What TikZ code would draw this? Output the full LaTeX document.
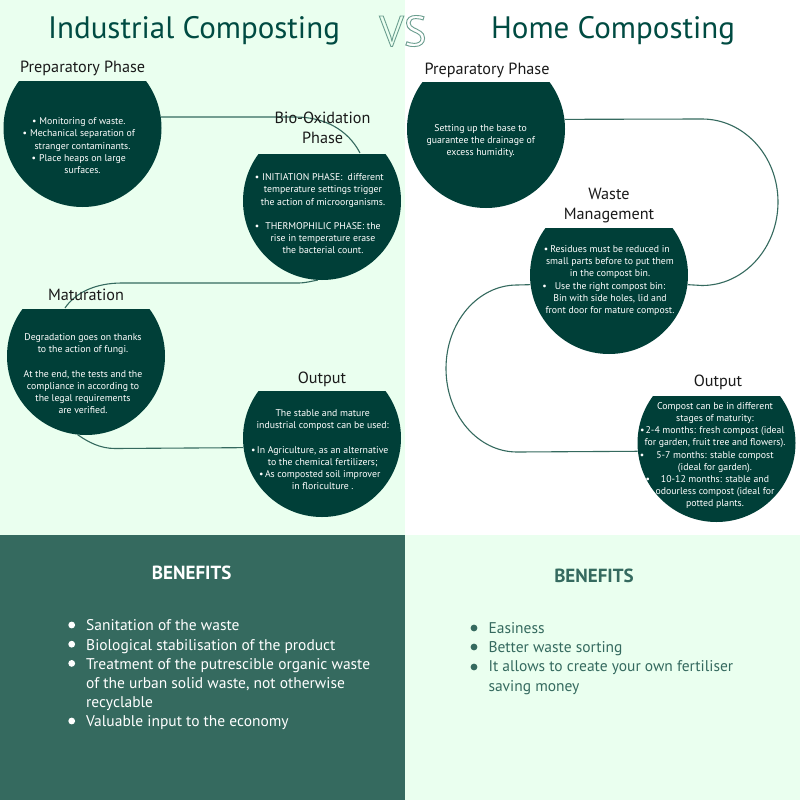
\documentclass[tikz,border=0pt]{standalone}
\usepackage{fontspec}
\setmainfont{PT Sans}
\usepackage{tikz}
\definecolor{paleg}{HTML}{EAFFEF}
\definecolor{darkg}{HTML}{003F38}
\definecolor{midg}{HTML}{356A5F}
\definecolor{titleg}{HTML}{004B42}
\definecolor{headk}{HTML}{1A1A1A}
\newcommand{\bul}[1]{\leavevmode\llap{•\hspace{#1}}}
\begin{document}
\begin{tikzpicture}[x=1pt, y=-1pt,
  segment/.style = {circle, minimum size=158pt, inner sep=0pt, path picture={\fill[darkg] (-80,-47.5) rectangle (80,80);}},
  body/.style = {align=center, text=white, inner sep=0pt, yshift=-1.2pt, font=\fontsize{9.8}{12.2}\selectfont},
  head/.style = {align=center, text=headk, inner sep=0pt, yshift=-1pt, font=\fontsize{16.2}{20}\selectfont},
  maintitle/.style = {text=titleg, inner sep=0pt, font=\fontsize{31}{36}\selectfont},
  bentitle/.style = {inner sep=0pt, font=\fontsize{19}{22}\selectfont\bfseries},
  benlist/.style = {align=left, anchor=west, inner sep=0pt, font=\fontsize{15.5}{19.2}\selectfont},
  link/.style = {draw=midg, line width=1.1pt}]
\useasboundingbox (0,0) rectangle (800,800);
\fill[white] (0,0) rectangle (800,800);
\fill[paleg] (0,0) rectangle (405,535);
\fill[midg] (0,535) rectangle (405,800);
\fill[paleg] (405,535) rectangle (800,800);

\node[segment] (ind1) at (82.5,128) {};
\node[segment] (ind2) at (322,201) {};
\node[segment] (ind3) at (86,356) {};
\node[segment] (ind4) at (322,438) {};
\node[segment] (hom1) at (486,129) {};
\node[segment] (hom2) at (609,275) {};
\node[segment] (hom3) at (716.5,443) {};
\coordinate (ind2top) at (360,153);
\coordinate (ind3top) at (65,308);

\draw[link] (ind1.8) -- (295,117) .. controls (325,117) and (348,130) .. (ind2top);
\draw[link] (ind2.-93) .. controls (312,281) and (306,283) .. (298,283) -- (122,283) .. controls (95,283) and (75,293) .. (ind3top);
\draw[link] (ind3.-96) .. controls (88,442) and (100,448.5) .. (115,448.5) -- (ind4.187.6);
\draw[link] (hom1.7) -- (702,119) .. controls (744,119) and (778,156) .. (778,202) .. controls (778,248) and (744,285.5) .. (702,285.5) -- (hom2.-7.6);
\draw[link] (hom2.187) -- (517,285) .. controls (478,285) and (446,322) .. (446,368.5) .. controls (446,415) and (478,452) .. (517,452) -- (hom3.186.5);

\node[maintitle] (indtitle) at (194,30.5) {Industrial Composting};
\node[maintitle] (homtitle) at (613,30.5) {Home Composting};
\node[inner sep=0pt, font=\fontsize{43}{46}\selectfont] (versus) at (403,31) {\special{pdf:code q 1 Tr 0.9 w 0.42 0.62 0.56 RG}VS\special{pdf:code Q}};

\node[head] (indprep) at (82.7,67.5) {Preparatory Phase};
\node[head] (indbio) at (322.6,126.5) {Bio-Oxidation\\Phase};
\node[head] (indmat) at (86,294) {Maturation};
\node[head] (indout) at (322,378) {Output};
\node[head] (homprep) at (487,69) {Preparatory Phase};
\node[head] (homwaste) at (609,204.5) {Waste\\Management};
\node[head] (homout) at (718,381) {Output};

\node[body] (indprept) at (82.5,144.5) {\bul{3pt}Monitoring of waste.\\\bul{3pt}Mechanical separation of\\stranger contaminants.\\\bul{3pt}Place heaps on large\\surfaces.};
\node[body] (indbiot) at (323,212.6) {\bul{3pt}INITIATION PHASE:\ \ different\\temperature settings trigger\\the action of microorganisms.\\[12.2pt]\bul{6pt}THERMOPHILIC PHASE: the\\rise in temperature erase\\the bacterial count.};
\node[body] (indmatt) at (83,372.7) {Degradation goes on thanks\\to the action of fungi.\\[12.2pt]At the end, the tests and the\\compliance in according to\\the legal requirements\\are verified.};
\node[body] (indoutt) at (322.7,448.5) {The stable and mature\\industrial compost can be used:\\[12.2pt]\bul{1.5pt}In Agriculture, as an alternative\\to the chemical fertilizers;\\\bul{1.5pt}As composted soil improver\\in floriculture .};
\node[body] (homprept) at (480.7,140) {Setting up the base to\\guarantee the drainage of\\excess humidity.};
\node[body] (homwastet) at (610,279.3) {\bul{2pt}Residues must be reduced in\\small parts before to put them\\in the compost bin.\\\bul{8pt}Use the right compost bin:\\Bin with side holes, lid and\\front door for mature compost.};
\node[body] (homoutt) at (715,454.3) {Compost can be in different\\stages of maturity:\\\bul{1pt}2-4 months: fresh compost (ideal\\for garden, fruit tree and flowers).\\\bul{12pt}5-7 months: stable compost\\(ideal for garden).\\\bul{11pt}10-12 months: stable and\\odourless compost (ideal for\\potted plants.};

\node[bentitle, text=white] (indben) at (191.7,573) {BENEFITS};
\node[benlist, text=white] (indbenl) at (86,675) {Sanitation of the waste\\Biological stabilisation of the product\\Treatment of the putrescible organic waste\\of the urban solid waste, not otherwise\\recyclable\\Valuable input to the economy};
\foreach \y in {625,644.2,663.4,721} \fill[white] (71.7,\y) circle (3.4);
\node[bentitle, text=midg] (homben) at (594,576) {BENEFITS};
\node[benlist, text=midg] (hombenl) at (488.3,658.5) {Easiness\\Better waste sorting\\It allows to create your own fertiliser\\saving money};
\foreach \y in {628,647,667} \fill[midg] (474,\y) circle (3.4);
\end{tikzpicture}
\end{document}
